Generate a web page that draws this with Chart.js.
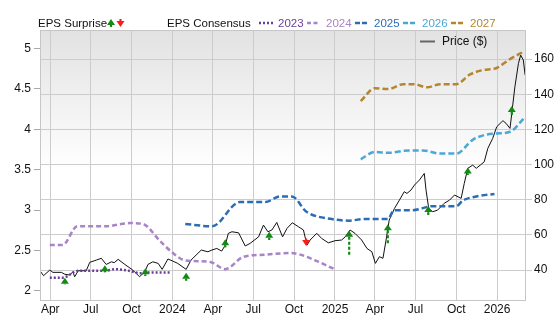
<!DOCTYPE html>
<html><head><meta charset="utf-8">
<script src="https://cdn.jsdelivr.net/npm/chart.js@4.4.1/dist/chart.umd.min.js"></script>
<style>html,body{margin:0;padding:0;background:#fff}#wrap{width:556px;height:315px;position:relative}</style>
</head><body><div id="wrap"><canvas id="c" width="556" height="315"></canvas></div>
<script>
// ---------- DATA ----------
const xTickDates = ['2023-04-01','2023-07-01','2023-10-01','2024-01-01','2024-04-01','2024-07-01','2024-10-01','2025-01-01','2025-04-01','2025-07-01','2025-10-01','2026-01-01'];
const xTickLabels = ['Apr','Jul','Oct','2024','Apr','Jul','Oct','2025','Apr','Jul','Oct','2026'];
const epsTicks = [2,2.5,3,3.5,4,4.5,5];
const priceTicks = [40,60,80,100,120,140,160];

const c2023Dates = ['2023-03-31','2023-04-29','2023-06-03','2023-08-03','2023-08-25','2023-09-25','2023-10-20','2023-11-10','2023-12-27'];
const c2023Vals  = [2.165,2.165,2.25,2.25,2.27,2.25,2.22,2.23,2.23];

const c2024Dates = ['2023-03-31','2023-04-29','2023-06-01','2023-08-03','2023-09-27','2023-10-26','2023-12-04','2023-12-31','2024-01-29','2024-03-26','2024-04-29','2024-06-08','2024-07-28','2024-09-22','2024-10-15','2024-11-17','2024-12-31'];
const c2024Vals  = [2.57,2.57,2.80,2.80,2.84,2.83,2.62,2.48,2.38,2.36,2.27,2.42,2.45,2.47,2.45,2.38,2.27];

const c2025Dates = ['2024-01-30','2024-03-30','2024-06-01','2024-07-28','2024-08-30','2024-09-26','2024-10-29','2024-12-25','2025-02-02','2025-03-05','2025-04-30','2025-05-14','2025-06-25','2025-08-09','2025-10-01','2025-10-16','2025-11-15','2025-12-26'];
const c2025Vals  = [2.83,2.80,3.10,3.10,3.17,3.17,2.98,2.89,2.87,2.89,2.89,3.00,3.00,3.05,3.05,3.12,3.17,3.20];

const c2026Dates = ['2025-02-28','2025-04-01','2025-05-01','2025-06-17','2025-07-18','2025-08-26','2025-10-01','2025-11-07','2025-12-03','2025-12-30','2026-01-30','2026-03-03'];
const c2026Vals  = [3.63,3.72,3.71,3.74,3.74,3.70,3.70,3.87,3.93,3.95,3.97,4.14];

const c2027Dates = ['2025-02-28','2025-04-01','2025-05-01','2025-06-04','2025-06-27','2025-07-27','2025-08-26','2025-10-01','2025-11-01','2025-11-27','2025-12-31','2026-01-30','2026-03-01'];
const c2027Vals  = [4.35,4.51,4.50,4.56,4.56,4.52,4.56,4.56,4.68,4.73,4.76,4.87,4.96];

const priceDates = ['2023-03-09','2023-03-17','2023-03-31','2023-04-07','2023-04-26','2023-05-04','2023-05-15','2023-05-22','2023-05-26','2023-06-03','2023-06-21','2023-06-29','2023-07-14','2023-07-25','2023-08-05','2023-08-17','2023-08-23','2023-09-01','2023-09-16','2023-10-04','2023-10-19','2023-10-31','2023-11-07','2023-11-18','2023-11-30','2023-12-09','2023-12-22','2024-01-02','2024-01-13','2024-02-01','2024-02-12','2024-03-06','2024-03-21','2024-03-30','2024-04-10','2024-04-21','2024-04-29','2024-05-06','2024-05-14','2024-05-29','2024-06-13','2024-06-24','2024-07-13','2024-07-24','2024-08-03','2024-08-12','2024-08-23','2024-09-05','2024-09-15','2024-09-27','2024-10-11','2024-10-22','2024-10-30','2024-11-06','2024-11-21','2024-12-02','2024-12-17','2025-01-01','2025-01-16','2025-01-24','2025-02-04','2025-02-15','2025-03-02','2025-03-14','2025-03-25','2025-04-02','2025-04-11','2025-04-19','2025-04-26','2025-05-03','2025-05-15','2025-05-26','2025-06-06','2025-06-12','2025-06-21','2025-06-29','2025-07-10','2025-07-21','2025-07-25','2025-07-31','2025-08-09','2025-08-20','2025-09-04','2025-09-16','2025-09-27','2025-10-12','2025-10-19','2025-10-27','2025-11-07','2025-11-15','2025-11-24','2025-12-03','2025-12-11','2025-12-22','2025-12-31','2026-01-14','2026-01-21','2026-01-30','2026-02-03','2026-02-10','2026-02-18','2026-02-23','2026-03-01','2026-03-05'];
const priceVals = [39.6,36.8,40.0,38.7,38.7,37.6,37.2,39.0,36.2,39.6,39.6,44.4,45.7,46.7,43.2,44.7,44.2,46.1,43.2,40.0,36.2,39.0,43.2,44.7,43.8,40.4,46.3,45.1,43.8,40.4,45.7,51.4,50.4,51.4,52.3,50.8,54.2,60.9,61.8,61.2,53.7,55.2,58.9,65.6,61.8,62.8,67.1,58.9,63.7,66.9,64.6,62.8,54.2,57.1,60.9,58.0,55.5,56.7,57.1,58.9,62.8,60.9,57.1,52.3,50.4,43.8,47.6,46.7,57.1,68.4,75.1,79.8,84.6,83.6,85.5,88.4,91.2,95.0,85.5,75.1,73.2,74.1,78.0,79.8,82.7,80.8,89.3,97.9,99.7,97.9,99.7,101.6,109.2,114.9,121.5,125.0,123.5,120.6,129.2,144.3,157.6,162.3,159.5,151.0];

const surpriseDates = ['2023-05-04','2023-08-02','2023-11-01','2024-02-01','2024-04-29','2024-08-06','2024-10-28','2025-02-02','2025-04-30','2025-07-30','2025-10-27','2026-02-03'];
const surpriseTip  = [35.6,42.8,41.0,38.5,57.5,61.8,53.7,62.4,66.0,76.4,98.4,133.3];
const surpriseTail = [31.9,38.7,36.6,33.9,52.9,57.1,58.0,48.5,55.2,71.3,94.1,128.2];

// ---------- HELPERS ----------
const T = s => Date.parse(s + 'T00:00:00Z');
const pts = (d, v) => d.map((s, i) => ({x: T(s), y: v[i]}));
const FONT = '"Liberation Sans", Arial, Helvetica, sans-serif';
const COL = {c2023:'#6a3d9a', c2024:'#a884c8', c2025:'#2a6db6', c2026:'#4aa8d8', c2027:'#b5862f', up:'#148a14', down:'#ff1a1a'};

function arrow(ctx, x, tipY, tailY, color) {
  const up = tipY < tailY;
  const dir = up ? 1 : -1;
  const headH = 6, headW = 4;
  const baseY = tipY + dir * headH;
  ctx.save();
  ctx.strokeStyle = color; ctx.fillStyle = color;
  if ((tailY - baseY) * dir > 0) {
    ctx.lineWidth = 2.2; ctx.setLineDash([3, 2]);
    ctx.beginPath(); ctx.moveTo(x, baseY); ctx.lineTo(x, tailY); ctx.stroke();
  }
  ctx.setLineDash([]);
  ctx.beginPath();
  ctx.moveTo(x, tipY); ctx.lineTo(x - headW, baseY); ctx.lineTo(x + headW, baseY); ctx.closePath(); ctx.fill();
  ctx.restore();
}

const bgPlugin = {
  id: 'bg',
  beforeDraw(chart) {
    const {ctx, chartArea: a} = chart;
    ctx.save();
    ctx.fillStyle = '#fff'; ctx.fillRect(0, 0, chart.width, chart.height);
    const g = ctx.createLinearGradient(0, a.top, 0, a.top + 140);
    g.addColorStop(0, '#e2e2e2'); g.addColorStop(1, '#ffffff');
    ctx.fillStyle = g; ctx.fillRect(a.left, a.top, a.right - a.left, a.bottom - a.top);
    ctx.restore();
  }
};

const overlayPlugin = {
  id: 'overlay',
  afterDatasetsDraw(chart) {
    const {ctx, chartArea: a, scales} = chart;
    // surprises
    surpriseDates.forEach((d, i) => {
      const x = scales.x.getPixelForValue(T(d));
      const tip = scales.yR.getPixelForValue(surpriseTip[i]);
      const tail = scales.yR.getPixelForValue(surpriseTail[i]);
      arrow(ctx, x, tip, tail, surpriseTip[i] > surpriseTail[i] ? COL.up : COL.down);
    });
  },
  afterDraw(chart) {
    const {ctx, chartArea: a} = chart;
    ctx.save();
    ctx.strokeStyle = '#c6c6c6'; ctx.lineWidth = 1;
    ctx.strokeRect(a.left + 0.5, a.top + 0.5, a.right - a.left - 1, a.bottom - a.top - 1);
    // top legend
    ctx.font = '11.5px ' + FONT; ctx.textBaseline = 'alphabetic';
    ctx.fillStyle = '#111';
    ctx.fillText('EPS Surprise', 38, 27);
    arrow(ctx, 111, 19, 27, COL.up);
    arrow(ctx, 120.5, 27, 19, COL.down);
    ctx.fillStyle = '#111';
    ctx.fillText('EPS Consensus', 167, 27);
    const items = [
      {x: 259, w: 16, dash: [2, 2], c: COL.c2023, t: '2023', tx: 278},
      {x: 307, w: 13, dash: [4, 2.5], c: COL.c2024, t: '2024', tx: 326},
      {x: 355, w: 13, dash: [5, 2], c: COL.c2025, t: '2025', tx: 374},
      {x: 403, w: 13, dash: [5, 2], c: COL.c2026, t: '2026', tx: 422},
      {x: 451, w: 13, dash: [5, 2], c: COL.c2027, t: '2027', tx: 470}
    ];
    items.forEach(it => {
      ctx.strokeStyle = it.c; ctx.lineWidth = 2.5; ctx.setLineDash(it.dash);
      ctx.beginPath(); ctx.moveTo(it.x, 23); ctx.lineTo(it.x + it.w, 23); ctx.stroke();
      ctx.setLineDash([]);
      ctx.fillStyle = it.c; ctx.fillText(it.t, it.tx, 27);
    });
    // price legend
    ctx.strokeStyle = '#666'; ctx.lineWidth = 2;
    ctx.beginPath(); ctx.moveTo(420, 41.5); ctx.lineTo(435, 41.5); ctx.stroke();
    ctx.fillStyle = '#111'; ctx.font = '12px ' + FONT;
    ctx.fillText('Price ($)', 442, 45);
    ctx.restore();
  }
};

const consensus = (label, d, v, color, dash, width) => ({
  label, data: pts(d, v), yAxisID: 'yL', borderColor: color, borderDash: dash,
  borderWidth: width, pointRadius: 0, fill: false, cubicInterpolationMode: 'monotone', tension: 0.4
});

new Chart(document.getElementById('c'), {
  type: 'line',
  data: {
    datasets: [
      consensus('2023', c2023Dates, c2023Vals, COL.c2023, [2, 2], 2.5),
      consensus('2024', c2024Dates, c2024Vals, COL.c2024, [5, 3], 2.5),
      consensus('2025', c2025Dates, c2025Vals, COL.c2025, [6, 3], 2.5),
      consensus('2026', c2026Dates, c2026Vals, COL.c2026, [6, 3], 2.5),
      consensus('2027', c2027Dates, c2027Vals, COL.c2027, [6, 3], 2.5),
      {label: 'Price ($)', data: pts(priceDates, priceVals), yAxisID: 'yR', borderColor: '#111', borderWidth: 1, pointRadius: 0, tension: 0, fill: false}
    ]
  },
  options: {
    responsive: false, animation: false, devicePixelRatio: 1,
    layout: {padding: {top: 30, left: 0, right: 0, bottom: 0}},
    plugins: {legend: {display: false}, tooltip: {enabled: false}},
    scales: {
      x: {
        type: 'linear', min: T('2023-03-09'), max: T('2026-03-07'),
        afterBuildTicks: s => { s.ticks = xTickDates.map(d => ({value: T(d)})); },
        afterFit: s => { s.height = 14; },
        ticks: {autoSkip: false, maxRotation: 0, padding: 1, color: '#111', font: {size: 12, family: FONT},
          callback: (v, i) => xTickLabels[i]},
        grid: {color: '#cccccc', drawTicks: false}, border: {display: false}
      },
      yL: {
        position: 'left', min: 1.876, max: 5.23,
        afterBuildTicks: s => { s.ticks = epsTicks.map(v => ({value: v})); },
        afterFit: s => { s.width = 40; },
        ticks: {padding: 3, color: '#111', font: {size: 12, family: FONT}, callback: v => String(v)},
        grid: {drawOnChartArea: false, tickLength: 6, color: '#aaaaaa'}, border: {display: false}
      },
      yR: {
        position: 'right', min: 22.4, max: 176.6,
        afterBuildTicks: s => { s.ticks = priceTicks.map(v => ({value: v})); },
        afterFit: s => { s.width = 30; },
        ticks: {padding: 2, color: '#111', font: {size: 12, family: FONT}, callback: v => String(v)},
        grid: {color: '#cccccc', tickLength: 6}, border: {display: false}
      }
    }
  },
  plugins: [bgPlugin, overlayPlugin]
});
</script></body></html>
